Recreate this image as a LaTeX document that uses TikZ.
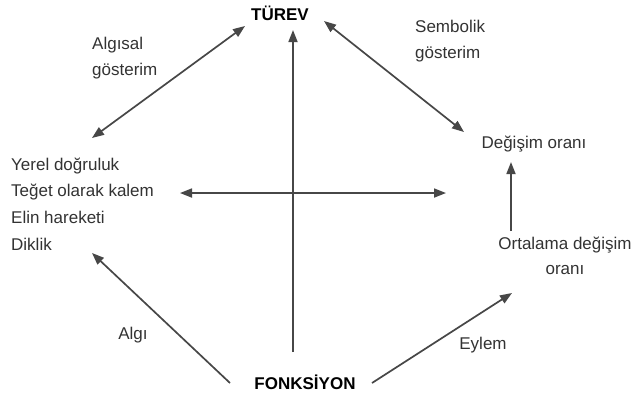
\documentclass[tikz,border=0pt]{standalone}
\usepackage{fontspec}
\setmainfont{Liberation Sans}
\usetikzlibrary{arrows.meta}
\definecolor{txt}{HTML}{333333}
\definecolor{ln}{HTML}{474747}
\begin{document}
\begin{tikzpicture}[x=1pt,y=-1pt,
  lbl/.style={font=\fontsize{17}{25.5}\selectfont, text=txt, inner sep=0pt},
  bld/.style={font=\fontsize{17}{20}\selectfont\bfseries, text=black, inner sep=0pt},
  arr/.style={draw=ln, line width=1.7pt, -{Triangle[length=12pt,width=9pt]}},
  darr/.style={draw=ln, line width=1.7pt, {Triangle[length=12pt,width=9pt]}-{Triangle[length=12pt,width=9pt]}}]
\useasboundingbox[fill=white] (0,0) rectangle (635,400);
% nodes
\node[bld] (turev) at (280,13) {TÜREV};
\node[bld] (fonk) at (305,382) {FONKSİYON};
\node[lbl, anchor=north west, align=left, font=\fontsize{17}{26.6}\selectfont] (left) at (11,157.5) {Yerel doğruluk\\Teğet olarak kalem\\Elin hareketi\\Diklik};
\node[lbl] (degisim) at (534,144) {Değişim oranı};
\node[lbl, align=center] (ort) at (565,256) {Ortalama değişim\\oranı};
\node[lbl, anchor=west, align=left] (alg) at (92,58) {Algısal\\gösterim};
\node[lbl, anchor=west, align=left] (semb) at (415,41) {Sembolik\\gösterim};
\node[lbl] (algi) at (133,335) {Algı};
\node[lbl] (eylem) at (483,345) {Eylem};
% connector end points
\coordinate (tL) at (245,26);
\coordinate (tR) at (324,21);
\coordinate (tB) at (293,30);
\coordinate (lT) at (92,138);
\coordinate (lB) at (92,253);
\coordinate (lR) at (180,193);
\coordinate (rL) at (446,193);
\coordinate (dB) at (511,162);
\coordinate (dT) at (464,132);
\coordinate (oT) at (511,231);
\coordinate (oB) at (512,293);
\coordinate (fL) at (230,383);
\coordinate (fR) at (372,383);
\coordinate (fT) at (293,352);
% connectors
\draw[darr] (lT) -- (tL);
\draw[darr] (tR) -- (dT);
\draw[arr] (fT) -- (tB);
\draw[darr] (lR) -- (rL);
\draw[arr] (oT) -- (dB);
\draw[arr] (fL) -- (lB);
\draw[arr] (fR) -- (oB);
\end{tikzpicture}
\end{document}
